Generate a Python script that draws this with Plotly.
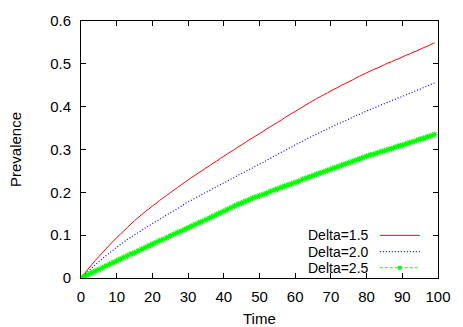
import plotly.graph_objects as go

# Simulated prevalence over time for three values of Delta
time = list(range(100))

prev_delta_15 = [
    0.000, 0.011, 0.021, 0.031, 0.041, 0.050, 0.059, 0.068, 0.077, 0.086,
    0.094, 0.102, 0.110, 0.118, 0.126, 0.134, 0.141, 0.148, 0.155, 0.161,
    0.168, 0.174, 0.181, 0.187, 0.193, 0.199, 0.205, 0.211, 0.217, 0.223,
    0.229, 0.235, 0.240, 0.246, 0.251, 0.257, 0.262, 0.268, 0.273, 0.279,
    0.284, 0.290, 0.295, 0.300, 0.306, 0.311, 0.316, 0.322, 0.327, 0.332,
    0.337, 0.342, 0.348, 0.353, 0.358, 0.363, 0.368, 0.374, 0.379, 0.384,
    0.389, 0.394, 0.399, 0.404, 0.409, 0.414, 0.419, 0.423, 0.428, 0.432,
    0.437, 0.441, 0.445, 0.450, 0.454, 0.458, 0.462, 0.467, 0.471, 0.475,
    0.479, 0.483, 0.487, 0.490, 0.494, 0.498, 0.502, 0.505, 0.509, 0.512,
    0.516, 0.520, 0.523, 0.527, 0.530, 0.534, 0.538, 0.541, 0.545, 0.549,
]

prev_delta_20 = [
    0.000, 0.008, 0.016, 0.023, 0.031, 0.038, 0.045, 0.052, 0.059, 0.065,
    0.072, 0.078, 0.084, 0.090, 0.095, 0.101, 0.106, 0.111, 0.117, 0.122,
    0.127, 0.132, 0.137, 0.142, 0.147, 0.152, 0.157, 0.162, 0.167, 0.173,
    0.178, 0.182, 0.187, 0.191, 0.196, 0.200, 0.204, 0.209, 0.213, 0.218,
    0.222, 0.226, 0.231, 0.235, 0.240, 0.244, 0.248, 0.253, 0.257, 0.262,
    0.266, 0.270, 0.275, 0.279, 0.284, 0.288, 0.293, 0.297, 0.302, 0.306,
    0.311, 0.315, 0.319, 0.324, 0.328, 0.332, 0.336, 0.340, 0.344, 0.348,
    0.352, 0.356, 0.360, 0.363, 0.367, 0.371, 0.375, 0.379, 0.382, 0.386,
    0.390, 0.393, 0.397, 0.400, 0.404, 0.407, 0.410, 0.414, 0.417, 0.421,
    0.424, 0.427, 0.431, 0.434, 0.438, 0.441, 0.445, 0.448, 0.452, 0.455,
]

prev_delta_25 = [
    0.000, 0.004, 0.008, 0.012, 0.016, 0.020, 0.024, 0.028, 0.032, 0.036,
    0.040, 0.044, 0.048, 0.052, 0.056, 0.059, 0.063, 0.067, 0.071, 0.075,
    0.079, 0.083, 0.087, 0.090, 0.094, 0.098, 0.102, 0.106, 0.109, 0.113,
    0.117, 0.121, 0.125, 0.129, 0.132, 0.136, 0.140, 0.144, 0.148, 0.152,
    0.156, 0.160, 0.164, 0.168, 0.172, 0.175, 0.179, 0.182, 0.186, 0.189,
    0.192, 0.195, 0.198, 0.202, 0.205, 0.208, 0.211, 0.214, 0.217, 0.220,
    0.223, 0.226, 0.230, 0.233, 0.236, 0.239, 0.242, 0.245, 0.248, 0.251,
    0.254, 0.257, 0.260, 0.263, 0.266, 0.269, 0.272, 0.275, 0.278, 0.281,
    0.284, 0.287, 0.289, 0.292, 0.295, 0.297, 0.300, 0.302, 0.305, 0.308,
    0.310, 0.313, 0.316, 0.318, 0.321, 0.324, 0.326, 0.329, 0.332, 0.335,
]

series_names = ["Delta=1.5", "Delta=2.0", "Delta=2.5"]
x_ticks = [0, 10, 20, 30, 40, 50, 60, 70, 80, 90, 100]
y_ticks = [0, 0.1, 0.2, 0.3, 0.4, 0.5, 0.6]

RED = "#ff0000"
BLUE = "#0000ff"
GREEN = "#00ff00"
FONT = "Liberation Sans, Arial, sans-serif"
FSIZE = 15
KEY_FSIZE = 14
GREEN_DASH = "3px,2px"

fig = go.Figure()
fig.add_trace(go.Scatter(x=time, y=prev_delta_15, mode="lines",
                         line=dict(color=RED, width=1, simplify=False),
                         name=series_names[0]))
fig.add_trace(go.Scatter(x=time, y=prev_delta_20, mode="lines",
                         line=dict(color=BLUE, width=1.2, dash="1px,2px", simplify=False),
                         name=series_names[1]))
fig.add_trace(go.Scatter(x=time, y=prev_delta_25, mode="lines+markers",
                         line=dict(color=GREEN, width=1, dash=GREEN_DASH, simplify=False),
                         marker=dict(symbol="asterisk-open", size=5,
                                     line=dict(color=GREEN, width=1.2)),
                         name=series_names[2]))

axis_common = dict(
    showline=True, linecolor="black", linewidth=1, mirror="ticks",
    ticks="inside", ticklen=5, tickcolor="black", tickwidth=1,
    showgrid=False, zeroline=False,
    tickfont=dict(family=FONT, size=FSIZE, color="black"),
)

fig.update_xaxes(range=[0, 100], tickvals=x_ticks, ticklabelstandoff=5, **axis_common)
fig.update_yaxes(range=[0, 0.6], tickvals=y_ticks, ticklabelstandoff=6, **axis_common)

# Key drawn in gnuplot style: text on the left, sample on the right
key_rows = [0.166, 0.103, 0.040]
key_styles = [(RED, "solid"), (BLUE, "1px,2px"), (GREEN, GREEN_DASH)]
annotations = []
shapes = []
for name, yk, (col, dash) in zip(series_names, key_rows, key_styles):
    annotations.append(dict(xref="paper", yref="paper", x=0.81, y=yk, text=name,
                            showarrow=False, xanchor="right", yanchor="middle",
                            borderpad=0,
                            font=dict(family=FONT, size=KEY_FSIZE, color="black")))
    shapes.append(dict(type="line", xref="paper", yref="paper",
                       x0=0.837, x1=0.949, y0=yk, y1=yk,
                       line=dict(color=col, width=1.2 if col == BLUE else 1, dash=dash)))
# marker in the middle of the green key sample
shapes.append(dict(type="rect", xref="paper", yref="paper",
                   x0=0.893 - 0.0055, x1=0.893 + 0.0055,
                   y0=key_rows[2] - 0.0075, y1=key_rows[2] + 0.0075,
                   fillcolor=GREEN, line=dict(color=GREEN, width=0)))

annotations.append(dict(xref="paper", yref="paper", x=0.5, y=0, yshift=-40,
                        text="Time", showarrow=False, xanchor="center", yanchor="middle",
                        font=dict(family=FONT, size=FSIZE, color="black")))
annotations.append(dict(xref="paper", yref="paper", x=0, y=0.5, xshift=-65.5,
                        text="Prevalence", textangle=-90, showarrow=False,
                        xanchor="center", yanchor="middle",
                        font=dict(family=FONT, size=FSIZE, color="black")))

fig.update_layout(
    width=463, height=327,
    margin=dict(l=81, r=16, t=13, b=49),
    paper_bgcolor="white", plot_bgcolor="white",
    showlegend=False,
    annotations=annotations, shapes=shapes,
)

fig.write_html("out.html")
